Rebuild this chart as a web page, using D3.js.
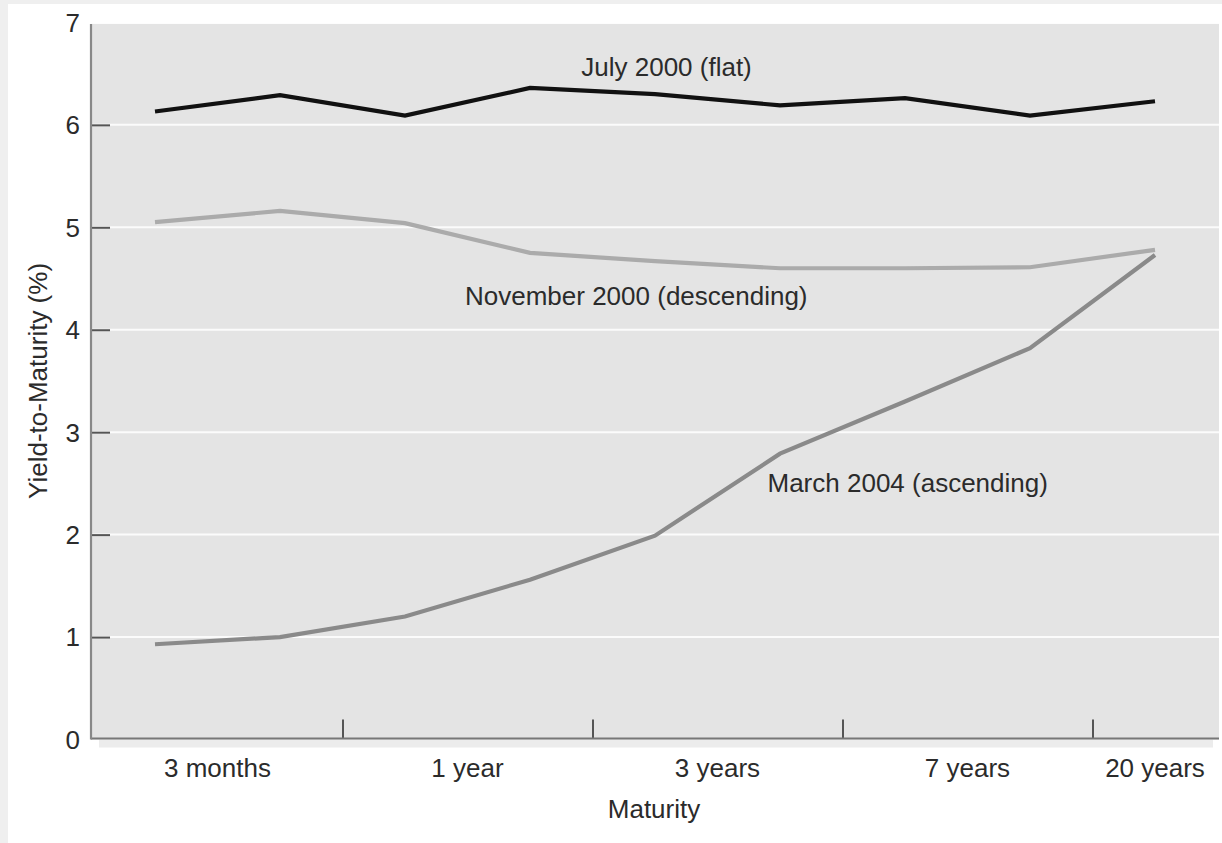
<!DOCTYPE html>
<html>
<head>
<meta charset="utf-8">
<script src="https://cdn.jsdelivr.net/npm/d3@7"></script>
<style>
  html, body { margin: 0; padding: 0; background: #ffffff; }
  svg { display: block; }
  text { font-family: "Liberation Sans", Arial, Helvetica, sans-serif; fill: #2b2b2b; }
</style>
</head>
<body>
<svg id="chart" width="1222" height="843"></svg>
<script>
// ---- data ----
const maturities = ["3 months", "6 months", "1 year", "2 years", "3 years", "5 years", "7 years", "10 years", "20 years"];
const july2000 = [6.13, 6.29, 6.09, 6.36, 6.30, 6.19, 6.26, 6.09, 6.23];
const nov2000  = [5.05, 5.16, 5.04, 4.75, 4.67, 4.60, 4.60, 4.61, 4.78];
const mar2004  = [0.93, 1.00, 1.20, 1.56, 1.99, 2.79, 3.30, 3.82, 4.73];
const xTickLabels = ["3 months", "1 year", "3 years", "7 years", "20 years"];
const yTicks = [0, 1, 2, 3, 4, 5, 6, 7];
const seriesNames = ["July 2000 (flat)", "November 2000 (descending)", "March 2004 (ascending)"];

// ---- layout ----
const W = 1222, H = 843;
const plotLeft = 91, plotRight = 1219;
const svg = d3.select("#chart");

const x = d3.scaleLinear().domain([0, maturities.length - 1]).range([155, 1155]);
const y = d3.scaleLinear().domain([0, 7]).range([739.5, 22.4]);

// page frame
svg.append("rect").attr("x", 0).attr("y", 0).attr("width", W).attr("height", H).attr("fill", "#efefef");
svg.append("rect").attr("x", 8).attr("y", 4).attr("width", W - 8).attr("height", H - 4).attr("fill", "#ffffff");

// shadow under the x axis
svg.append("rect").attr("x", 99).attr("y", y(0)).attr("width", 1213 - 99).attr("height", 8).attr("fill", "#ececec");

// plot background
svg.append("rect")
  .attr("x", plotLeft).attr("y", y(7) + 1.5)
  .attr("width", plotRight - plotLeft).attr("height", y(0) - y(7) - 1.5)
  .attr("fill", "#e4e4e4");

// gridlines
svg.append("g").selectAll("line").data(yTicks.filter(d => d > 0 && d < 7)).join("line")
  .attr("x1", plotLeft).attr("x2", plotRight)
  .attr("y1", d => y(d)).attr("y2", d => y(d))
  .attr("stroke", "#fbfbfb").attr("stroke-width", 2);

// y axis
const yAxis = d3.axisRight(y).tickValues(yTicks.filter(d => d > 0 && d < 7)).tickSize(19).tickFormat("");
const gy = svg.append("g").attr("transform", `translate(${plotLeft},0)`).call(yAxis);
gy.select(".domain").remove();
gy.selectAll(".tick line").attr("stroke", "#555").attr("stroke-width", 2);

svg.append("g").selectAll("text").data(yTicks).join("text")
  .attr("x", 80).attr("y", d => y(d)).attr("dy", "0.36em")
  .attr("text-anchor", "end").attr("font-size", 26)
  .text(d => d);

// x axis ticks (between groups, pointing up)
const xTickPositions = [1.5, 3.5, 5.5, 7.5];
const xAxis = d3.axisTop(x).tickValues(xTickPositions).tickSize(19).tickFormat("");
const gx = svg.append("g").attr("transform", `translate(0,${y(0) - 1})`).call(xAxis);
gx.select(".domain").remove();
gx.selectAll(".tick line").attr("stroke", "#555").attr("stroke-width", 2);

// axis lines
svg.append("line").attr("x1", plotLeft).attr("x2", plotRight).attr("y1", y(0) - 1).attr("y2", y(0) - 1)
  .attr("stroke", "#777").attr("stroke-width", 2.2);
svg.append("line").attr("x1", plotLeft).attr("x2", plotLeft).attr("y1", y(7) + 1.5).attr("y2", y(0))
  .attr("stroke", "#888").attr("stroke-width", 2.2);

// x tick labels: each covers a pair of maturities, last one sits on its point
const labelPos = xTickLabels.map((d, i) => i < xTickLabels.length - 1 ? 2 * i + 0.5 : maturities.length - 1);
svg.append("g").selectAll("text").data(xTickLabels).join("text")
  .attr("x", (d, i) => x(labelPos[i])).attr("y", 777)
  .attr("text-anchor", "middle").attr("font-size", 26)
  .text(d => d);

// axis titles
svg.append("text").attr("x", (plotLeft + plotRight) / 2 + 0).attr("y", 818)
  .attr("text-anchor", "middle").attr("font-size", 26).text("Maturity")
  .attr("x", 654);
svg.append("text").attr("transform", `translate(47,${(y(0) + y(7)) / 2}) rotate(-90)`)
  .attr("text-anchor", "middle").attr("font-size", 26).text("Yield-to-Maturity (%)");

// lines
const line = d3.line().x((d, i) => x(i)).y(d => y(d));
const series = [
  { values: mar2004, color: "#8a8a8a" },
  { values: nov2000, color: "#ababab" },
  { values: july2000, color: "#111111" }
];
svg.append("g").selectAll("path").data(series).join("path")
  .attr("d", d => line(d.values))
  .attr("fill", "none")
  .attr("stroke", d => d.color)
  .attr("stroke-width", 4.2)
  .attr("stroke-linejoin", "miter");

// series labels (placed in data coordinates)
const labelAt = [
  { name: seriesNames[0], xi: 3.41, v: 6.48 },
  { name: seriesNames[1], xi: 2.48, v: 4.24 },
  { name: seriesNames[2], xi: 4.90, v: 2.42 }
];
svg.append("g").selectAll("text").data(labelAt).join("text")
  .attr("x", d => x(d.xi)).attr("y", d => y(d.v))
  .attr("font-size", 26)
  .text(d => d.name);
</script>
</body>
</html>
